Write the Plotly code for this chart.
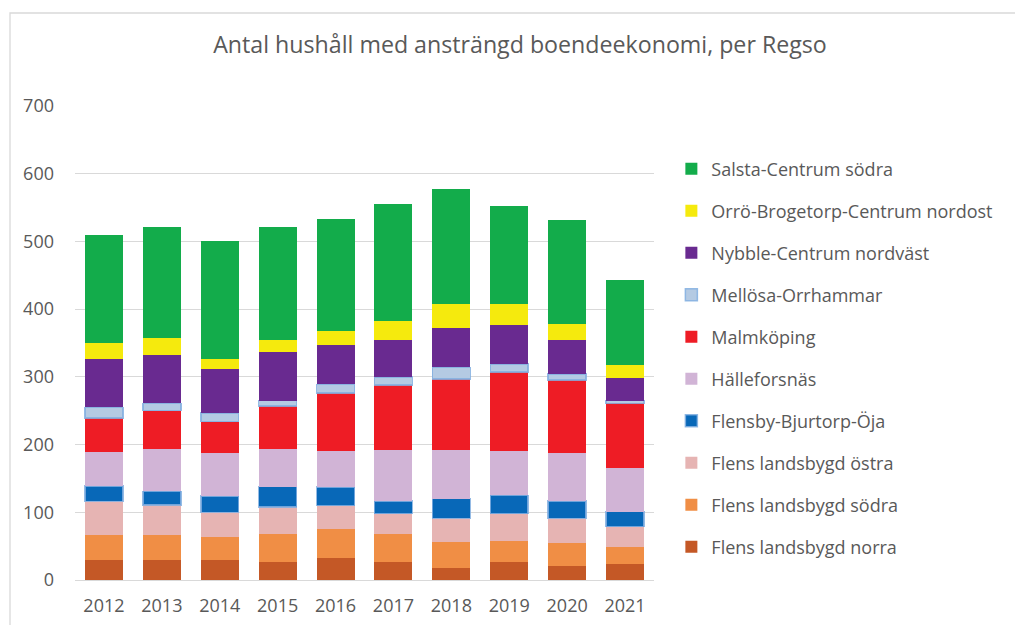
import plotly.graph_objects as go

years = ["2012", "2013", "2014", "2015", "2016", "2017", "2018", "2019", "2020", "2021"]

flens_norra = [29, 29, 30, 27, 32, 27, 18, 27, 21, 23]
flens_sodra = [38, 38, 34, 41, 43, 41, 38, 30, 34, 26]
flens_ostra = [49, 44, 36, 40, 35, 30, 35, 41, 36, 30]
flensby = [23, 20, 24, 30, 27, 19, 29, 27, 26, 22]
halleforsnas = [50, 62, 63, 56, 53, 75, 72, 66, 71, 65]
malmkoping = [50, 57, 47, 63, 86, 96, 105, 116, 107, 95]
mellosa = [16, 11, 13, 8, 13, 12, 17, 12, 9, 4]
nybble = [71, 72, 65, 71, 58, 54, 58, 57, 50, 34]
orro = [24, 24, 15, 18, 21, 28, 35, 32, 24, 18]
salsta = [160, 164, 174, 168, 165, 174, 171, 145, 154, 126]

series = [
    ("Flens landsbygd norra", flens_norra, "#C45826", None),
    ("Flens landsbygd södra", flens_sodra, "#F08E45", None),
    ("Flens landsbygd östra", flens_ostra, "#E6B4B3", None),
    ("Flensby-Bjurtorp-Öja", flensby, "#0868B8", "rgba(130,175,225,0.85)"),
    ("Hälleforsnäs", halleforsnas, "#D1B4D6", None),
    ("Malmköping", malmkoping, "#EE1C25", None),
    ("Mellösa-Orrhammar", mellosa, "#B4CAE3", "rgba(130,175,225,0.85)"),
    ("Nybble-Centrum nordväst", nybble, "#692A90", None),
    ("Orrö-Brogetorp-Centrum nordost", orro, "#F5EA0D", None),
    ("Salsta-Centrum södra", salsta, "#13AC4B", None),
]

fig = go.Figure()
n = len(series)
for i, (name, vals, color, line) in enumerate(series):
    marker = dict(color=color)
    if line:
        marker["line"] = dict(color=line, width=1.5)
    else:
        marker["line"] = dict(width=0)
    fig.add_trace(go.Bar(x=years, y=vals, name=name, marker=marker,
                         legendgroup=name, legendrank=n - i))

font_family = "Open Sans, Liberation Sans, sans-serif"
txt = "#595959"

fig.update_layout(
    width=1015, height=625,
    barmode="stack", bargap=0.345,
    paper_bgcolor="white", plot_bgcolor="white",
    margin=dict(l=75, r=361, t=106, b=45),
    font=dict(family=font_family, color=txt, size=18),
    title=dict(
        text="Antal hushåll med ansträngd boendeekonomi, per Regso",
        x=520 / 1015, xref="container", xanchor="center",
        y=1 - 45 / 625, yref="container", yanchor="middle",
        font=dict(size=23.2, color=txt, family=font_family),
    ),
    legend=dict(
        x=1.03, xanchor="left", y=0.906, yanchor="top",
        traceorder="grouped", tracegroupgap=15.6,
        font=dict(size=18, color=txt, family=font_family),
        bgcolor="rgba(0,0,0,0)",
    ),
    xaxis=dict(showgrid=False, ticks="", ticklabelstandoff=13, automargin=False,
               tickfont=dict(size=18, color=txt)),
    yaxis=dict(range=[0, 700], dtick=100, showgrid=True, gridcolor="#D9D9D9",
               gridwidth=1.3, zeroline=True, zerolinecolor="#D9D9D9", zerolinewidth=1.3,
               ticks="", ticklabelstandoff=20, automargin=False,
               tickfont=dict(size=18, color=txt)),
    shapes=[dict(type="rect", xref="paper", yref="paper",
                 x0=(10 - 75) / 579, x1=2.0, y0=-0.5, y1=(580 - 13) / 474,
                 line=dict(color="#D9D9D9", width=1.3), fillcolor="rgba(0,0,0,0)", layer="below")],
)

fig.write_html("out.html", config={"displayModeBar": False},
               post_script="document.body.style.margin='0';")
